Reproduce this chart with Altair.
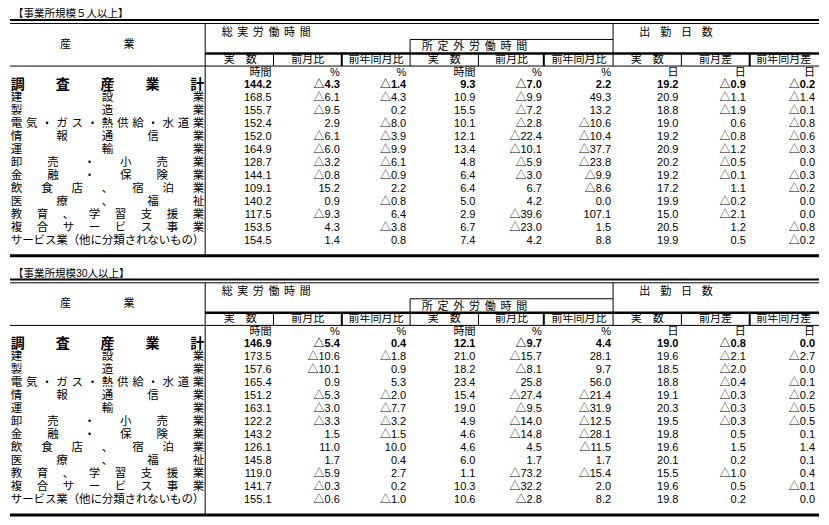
import altair as alt
import pandas as pd

# ---------------- data ----------------
titles = ["【事業所規模５人以上】", "【事業所規模30人以上】"]

industries = [
    "調査産業計", "建設業", "製造業", "電気・ガス・熱供給・水道業", "情報通信業",
    "運輸業", "卸売・小売業", "金融・保険業", "飲食店、宿泊業", "医療、福祉",
    "教育、学習支援業", "複合サービス事業", "サービス業（他に分類されないもの）",
]

group_headers = ["総実労働時間", "所定外労働時間", "出勤日数"]
sub_headers = ["実　数", "前月比", "前年同月比", "実　数", "前月比", "前年同月比",
               "実　数", "前月差", "前年同月差"]
units = ["時間", "%", "%", "時間", "%", "%", "日", "日", "日"]

# 5人以上
t5_total = [144.2, 168.5, 155.7, 152.4, 152.0, 164.9, 128.7, 144.1, 109.1, 140.2, 117.5, 153.5, 154.5]
t5_total_mom = [-4.3, -6.1, -9.5, 2.9, -6.1, -6.0, -3.2, -0.8, 15.2, 0.9, -9.3, 4.3, 1.4]
t5_total_yoy = [-1.4, -4.3, 0.2, -8.0, -3.9, -9.9, -6.1, -0.9, 2.2, -0.8, 6.4, -3.8, 0.8]
t5_over = [9.3, 10.9, 15.5, 10.1, 12.1, 13.4, 4.8, 6.4, 6.4, 5.0, 2.9, 6.7, 7.4]
t5_over_mom = [-7.0, -9.9, -7.2, -2.8, -22.4, -10.1, -5.9, -3.0, 6.7, 4.2, -39.6, -23.0, 4.2]
t5_over_yoy = [2.2, 49.3, 13.2, -10.6, -10.4, -37.7, -23.8, -9.9, -8.6, 0.0, 107.1, 1.5, 8.8]
t5_days = [19.2, 20.9, 18.8, 19.0, 19.2, 20.9, 20.2, 19.2, 17.2, 19.9, 15.0, 20.5, 19.9]
t5_days_mom = [-0.9, -1.1, -1.9, 0.6, -0.8, -1.2, -0.5, -0.1, 1.1, -0.2, -2.1, 1.2, 0.5]
t5_days_yoy = [-0.2, -1.4, -0.1, -0.8, -0.6, -0.3, 0.0, -0.3, -0.2, 0.0, 0.0, -0.8, -0.2]

# 30人以上
t30_total = [146.9, 173.5, 157.6, 165.4, 151.2, 163.1, 122.2, 143.2, 126.1, 145.8, 119.0, 141.7, 155.1]
t30_total_mom = [-5.4, -10.6, -10.1, 0.9, -5.3, -3.0, -3.3, 1.5, 11.0, 1.7, -5.9, -0.3, -0.6]
t30_total_yoy = [0.4, -1.8, 0.9, 5.3, -2.0, -7.7, -3.2, -1.5, 10.0, 0.4, 2.7, 0.2, -1.0]
t30_over = [12.1, 21.0, 18.2, 23.4, 15.4, 19.0, 4.9, 4.6, 4.6, 6.0, 1.1, 10.3, 10.6]
t30_over_mom = [-9.7, -15.7, -8.1, 25.8, -27.4, -9.5, -14.0, -14.8, 4.5, 1.7, -73.2, -32.2, -2.8]
t30_over_yoy = [4.4, 28.1, 9.7, 56.0, -21.4, -31.9, -12.5, -28.1, -11.5, 1.7, -15.4, 2.0, 8.2]
t30_days = [19.0, 19.6, 18.5, 18.8, 19.1, 20.3, 19.5, 19.8, 19.6, 20.1, 15.5, 19.6, 19.8]
t30_days_mom = [-0.8, -2.1, -2.0, -0.4, -0.3, -0.3, -0.3, 0.5, 1.5, 0.2, -1.0, 0.5, 0.2]
t30_days_yoy = [0.0, -2.7, 0.0, -0.1, -0.2, -0.5, -0.5, 0.1, 1.4, 0.1, 0.4, -0.1, 0.0]

tables = [
    [t5_total, t5_total_mom, t5_total_yoy, t5_over, t5_over_mom, t5_over_yoy,
     t5_days, t5_days_mom, t5_days_yoy],
    [t30_total, t30_total_mom, t30_total_yoy, t30_over, t30_over_mom, t30_over_yoy,
     t30_days, t30_days_mom, t30_days_yoy],
]

# ---------------- layout (reference pixel space 829 x 525) ----------------
W, H = 829, 525
OFFSETS = [0, 268]
NUM_RIGHT = [268, 338, 406, 477, 545, 616, 685, 754, 825]
SUB_CENTER = [236, 305, 375, 445, 514, 583, 653, 723, 793]
# (left edge, right edge, y) for the spaced-out group headers
GROUP_SPAN = [(217, 308, 26), (422, 530, 40.5), (645, 720, 26)]
ROW0, ROWSTEP, UNIT_Y = 79.5, 13.4, 67
FONT = "Liberation Sans, Noto Sans CJK JP"


def fmt(v):
    return ("△" + f"{abs(v):.1f}") if v < 0 else f"{v:.1f}"


def spread(text, left, right, fs):
    n = len(text)
    lo, hi = left + fs / 2, right - fs / 2
    if n == 1:
        return [((lo + hi) / 2, text)]
    return [(lo + (hi - lo) * k / (n - 1), ch) for k, ch in enumerate(text)]


rules, nums, nums_b, units_rows, chars, chars_b, left_txt, center_txt = ([] for _ in range(8))

for t, off in enumerate(OFFSETS):
    left_txt.append(dict(x=3, y=6.5 + off, text=titles[t], size=10.5))
    # horizontal rules
    for x1, x2, y, w in [(0, W, 12.5, 2), (0, W, 16, 1), (410, 618, 32.5, 1),
                         (200, W, 47, 2.5), (0, W, 60, 1), (0, W, 256, 3)]:
        rules.append(dict(x=x1, x2=x2, y=y + off, y2=y + off, w=w))
    # vertical rules
    for x, y1, y2, w in [(200, 16, 256, 1), (618, 16, 60, 1), (410, 32.5, 60, 1),
                         (270, 47, 60, 1), (340, 47, 60, 2), (480, 47, 60, 1),
                         (547, 47, 60, 2), (688, 47, 60, 1), (758, 47, 60, 2)]:
        rules.append(dict(x=x, x2=x, y=y1 + off, y2=y2 + off, w=w))
    # headers
    center_txt.append(dict(x=57, y=38 + off, text="産", size=11))
    center_txt.append(dict(x=122, y=38 + off, text="業", size=11))
    for (gl, gr, gy), g in zip(GROUP_SPAN, group_headers):
        for x, ch in spread(g, gl, gr, 11):
            center_txt.append(dict(x=x, y=gy + off, text=ch, size=11))
    for cx, s in zip(SUB_CENTER, sub_headers):
        center_txt.append(dict(x=cx, y=53.5 + off, text=s, size=11))
    for rx, u in zip(NUM_RIGHT, units):
        units_rows.append(dict(x=rx, y=UNIT_Y + off, text=u, size=11))
    # rows
    for i, name in enumerate(industries):
        y = ROW0 + i * ROWSTEP + off
        fs = 14 if i == 0 else 11.5
        for x, ch in spread(name, 1, 199, fs):
            (chars_b if i == 0 else chars).append(dict(x=x, y=y, text=ch, size=fs))
        for c, rx in enumerate(NUM_RIGHT):
            (nums_b if i == 0 else nums).append(
                dict(x=rx, y=y, text=fmt(tables[t][c][i]), size=11))

xs = alt.Scale(domain=[0, W], nice=False, zero=False)
ys = alt.Scale(domain=[0, H], nice=False, zero=False, reverse=True)


def text_layer(rows, align, weight="normal"):
    return alt.Chart(pd.DataFrame(rows)).mark_text(
        align=align, baseline="middle", font=FONT, fontWeight=weight, color="black"
    ).encode(
        x=alt.X("x:Q", scale=xs, axis=None),
        y=alt.Y("y:Q", scale=ys, axis=None),
        text="text:N",
        size=alt.Size("size:Q", scale=None, legend=None),
    )


rule_layer = alt.Chart(pd.DataFrame(rules)).mark_rule(color="black").encode(
    x=alt.X("x:Q", scale=xs, axis=None),
    x2="x2:Q",
    y=alt.Y("y:Q", scale=ys, axis=None),
    y2="y2:Q",
    strokeWidth=alt.StrokeWidth("w:Q", scale=None, legend=None),
)

chart = alt.layer(
    rule_layer,
    text_layer(chars, "center"),
    text_layer(chars_b, "center", "bold"),
    text_layer(nums, "right"),
    text_layer(nums_b, "right", "bold"),
    text_layer(units_rows, "right"),
    text_layer(left_txt, "left"),
    text_layer(center_txt, "center"),
).properties(
    width=813, height=509, padding=0,
    autosize=alt.AutoSizeParams(type="fit", contains="padding"),
    background="white",
).configure_view(stroke=None)

chart.save("out.html", embed_options={"renderer": "svg", "actions": False})
